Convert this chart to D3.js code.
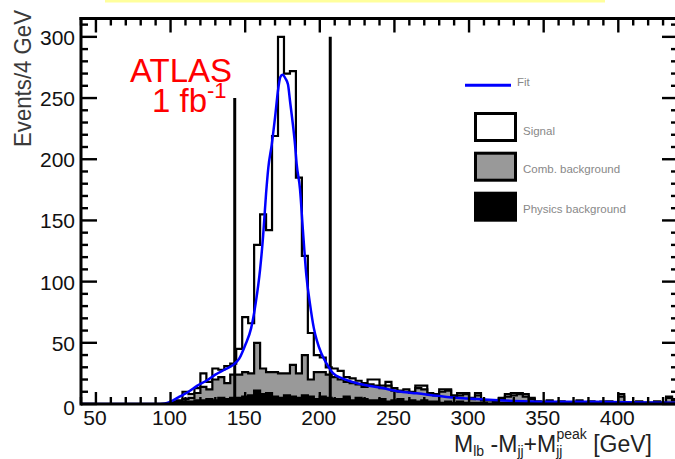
<!DOCTYPE html>
<html>
<head>
<meta charset="utf-8">
<script src="https://cdn.jsdelivr.net/npm/d3@7"></script>
<style>
  html, body { margin: 0; padding: 0; background: #fff; }
  svg { display: block; }
  text { font-family: "Liberation Sans", Arial, Helvetica, sans-serif; }
</style>
</head>
<body>
<svg id="chart" width="675" height="459"></svg>
<script>
// Histogram binning (GeV)
const binStart = 40;
const binWidth = 4;

// Events per 4 GeV bin, one entry per bin from 40 to 440 GeV
const physicsBkg = [
  0,0,0,0,0,0,0,0,0,0, 0,0,0,0,0,1,1,2,2,3,
  3,4,3,5,4,5,5,6,7,11, 8,9,6,5,7,6,5,7,6,4,
  6,5,4,4,6,3,5,4,3,3, 4,2,3,4,2,3,2,3,2,2,
  1,2,1,2,1,1,1,1,0,1, 1,1,1,1,1,1,0,0,1,0,
  0,0,0,1,0,0,0,0,0,0, 1,0,0,0,0,0,0,0,1,1
];
const combBkg = [
  0,0,0,0,0,0,0,0,0,0, 0,0,0,0,0,0,1,2,3,6,
  11,8,17,17,13,19,19,20,18,39, 21,17,20,20,18,26,20,33,14,22,
  20,19,18,16,12,14,11,10,13,12, 9,13,8,6,8,6,11,9,6,5,
  9,9,5,5,7,3,6,2,3,1, 3,5,6,7,5,3,2,1,1,1,
  2,1,0,1,1,2,1,1,2,1, 5,1,1,2,1,1,2,1,4,2
];
const signal = [
  0,0,0,0,0,0,0,0,0,0, 0,0,0,0,0,1,1,6,3,4,
  11,6,9,6,14,9,21,45,41,80, 126,116,193,275,245,240,160,81,38,14,
  12,6,7,7,4,4,3,3,4,5, 2,3,2,1,2,1,2,3,1,1,
  2,1,1,2,1,1,2,0,0,0, 1,2,2,1,2,1,0,0,1,0,
  0,0,0,1,0,0,0,1,0,0, 2,0,0,0,0,0,0,0,1,1
];

// Fitted curve, sampled as [mass (GeV), events]
const fitMass = [40, 90, 96, 100, 106, 112, 118, 124, 130, 136, 142, 146, 150, 154, 157,
  160, 162, 164, 165.5, 167.8, 170, 172.2, 173.5, 175, 177, 178.7, 180, 182, 183.4, 184.5,
  186.7, 188.8, 191, 193.4, 196, 198, 201, 204.6, 209, 215, 222, 230, 242, 252, 265, 285,
  305, 330, 350, 385, 420, 440];
const fitEvents = [0, 0, 0.5, 2, 6, 10, 15, 19, 24, 28, 32, 37, 48, 62, 82,
  110, 137, 172, 193, 212, 234, 258, 267, 269, 266, 261, 248, 228, 212, 196,
  176, 140, 105, 82, 62, 52, 41.5, 33, 25, 21, 18, 15.5, 13, 10.5, 8.7, 5.8,
  4, 2.5, 1.9, 1.8, 1.2, 1];

// Mass-window cut lines: position (GeV) and height (events)
const cutMass = [143, 207];
const cutHeight = [250, 300];

// Axis ticks
const xTickLabels = [50, 100, 150, 200, 250, 300, 350, 400];
const yTickLabels = [0, 50, 100, 150, 200, 250, 300];

// Legend
const legendLabels = ["Fit", "Signal", "Comb. background", "Physics background"];
const legendFills = ["none", "#ffffff", "#999999", "#000000"];

const svg = d3.select("#chart");

const plot = { left: 81, right: 678, top: 18.5, bottom: 404 };
const x = d3.scaleLinear().domain([40, 440]).range([plot.left, plot.right]);
const y = d3.scaleLinear().domain([0, 315]).range([plot.bottom, plot.top]);

// thin yellow strip along the top edge
svg.append("rect").attr("x", 105).attr("y", 0).attr("width", 500).attr("height", 2.5)
  .attr("fill", "#ffff9c");

svg.append("defs").append("clipPath").attr("id", "plotclip")
  .append("rect")
  .attr("x", plot.left).attr("y", plot.top)
  .attr("width", plot.right - plot.left).attr("height", plot.bottom - plot.top);

const g = svg.append("g").attr("clip-path", "url(#plotclip)");

// cumulative stacks: physics, +combinatorial, +signal
const nBins = physicsBkg.length;
const layerPhys = physicsBkg.slice();
const layerComb = physicsBkg.map((v, i) => v + combBkg[i]);
const layerTotal = layerComb.map((v, i) => v + signal[i]);

function stepPoints(vals) {
  const pts = vals.map((v, i) => [binStart + i * binWidth, v]);
  pts.push([binStart + nBins * binWidth, vals[nBins - 1]]);
  return pts;
}
const area = d3.area()
  .curve(d3.curveStepAfter)
  .x(d => x(d[0]))
  .y0(y(0))
  .y1(d => y(d[1]));

const layers = [
  { vals: layerTotal, fill: "#ffffff" },
  { vals: layerComb, fill: "#999999" },
  { vals: layerPhys, fill: "#000000" }
];
g.selectAll("path.hist").data(layers).join("path")
  .attr("class", "hist")
  .attr("d", d => area(stepPoints(d.vals)))
  .attr("fill", d => d.fill)
  .attr("stroke", "#000")
  .attr("stroke-width", 2.2)
  .attr("stroke-linejoin", "miter");

// cut lines
g.selectAll("line.cut").data(cutMass).join("line")
  .attr("class", "cut")
  .attr("x1", d => x(d)).attr("x2", d => x(d))
  .attr("y1", y(0)).attr("y2", (d, i) => y(cutHeight[i]))
  .attr("stroke", "#000").attr("stroke-width", 3);

// fit curve
const fitLine = d3.line()
  .curve(d3.curveMonotoneX)
  .x(d => x(d[0]))
  .y(d => y(d[1]));
g.append("path")
  .attr("d", fitLine(fitMass.map((m, i) => [m, fitEvents[i]])))
  .attr("fill", "none")
  .attr("stroke", "#0000ff")
  .attr("stroke-width", 2.5);

// frame
const frame = svg.append("g").attr("stroke", "#000").attr("fill", "none");
frame.append("line").attr("x1", plot.left - 1.5).attr("x2", plot.right + 2).attr("y1", plot.top).attr("y2", plot.top).attr("stroke-width", 3);
frame.append("line").attr("x1", plot.left).attr("x2", plot.left).attr("y1", plot.top - 1.5).attr("y2", plot.bottom + 1.5).attr("stroke-width", 3);
frame.append("line").attr("x1", plot.right).attr("x2", plot.right).attr("y1", plot.top).attr("y2", plot.bottom).attr("stroke-width", 3);
frame.append("line").attr("x1", plot.left).attr("x2", plot.right).attr("y1", plot.bottom).attr("y2", plot.bottom).attr("stroke-width", 3);

// ticks
const xMinor = d3.range(40, 441, 10);
const yMinor = d3.range(0, 316, 10);
const ticks = svg.append("g").attr("stroke", "#000").attr("stroke-width", 2.4);
xMinor.forEach(v => {
  const major = v % 50 === 0;
  // bottom (pointing up)
  ticks.append("line").attr("x1", x(v)).attr("x2", x(v))
    .attr("y1", plot.bottom).attr("y2", plot.bottom - (major ? 12 : 7));
  // top (pointing down)
  ticks.append("line").attr("x1", x(v)).attr("x2", x(v))
    .attr("y1", plot.top).attr("y2", plot.top + (major ? 14 : 7));
});
yMinor.forEach(v => {
  const major = v % 50 === 0;
  ticks.append("line").attr("y1", y(v)).attr("y2", y(v))
    .attr("x1", plot.left).attr("x2", plot.left + (major ? 16 : 7));
  ticks.append("line").attr("y1", y(v)).attr("y2", y(v))
    .attr("x1", plot.right).attr("x2", plot.right - (major ? 16 : 7));
});

// tick labels
svg.append("g").selectAll("text").data(xTickLabels).join("text")
  .attr("x", d => x(d) - 1)
  .attr("y", 425)
  .attr("text-anchor", "middle")
  .attr("font-size", 21)
  .attr("fill", "#111")
  .text(d => d);
svg.append("g").selectAll("text").data(yTickLabels).join("text")
  .attr("x", 75)
  .attr("y", d => y(d) + (d === 0 ? 11 : 8))
  .attr("text-anchor", "end")
  .attr("font-size", 21)
  .attr("fill", "#111")
  .text(d => d);

// axis titles
svg.append("text")
  .attr("transform", "translate(31,147) rotate(-90)")
  .attr("font-size", 24)
  .attr("textLength", 137)
  .attr("lengthAdjust", "spacingAndGlyphs")
  .attr("fill", "#3a3a3a")
  .text("Events/4 GeV");

const xt = svg.append("text")
  .attr("x", 652).attr("y", 452)
  .attr("text-anchor", "end")
  .attr("font-size", 23)
  .attr("fill", "#222");
xt.append("tspan").text("M");
xt.append("tspan").attr("font-size", 14).attr("dy", 4).text("lb");
xt.append("tspan").attr("dy", -4).text(" -M");
xt.append("tspan").attr("font-size", 14).attr("dy", 4).text("jj");
xt.append("tspan").attr("dy", -4).text("+M");
xt.append("tspan").attr("font-size", 14).attr("dy", 4).text("jj");
xt.append("tspan").attr("font-size", 14).attr("dx", -6).attr("dy", -17).text("peak");
xt.append("tspan").attr("dy", 13).text(" [GeV]");

// experiment label
svg.append("text").attr("x", 130).attr("y", 82)
  .attr("font-size", 33).attr("fill", "#ff0000").text("ATLAS");
const lumi = svg.append("text").attr("x", 152).attr("y", 112)
  .attr("font-size", 33).attr("fill", "#ff0000");
lumi.append("tspan").text("1 fb");
lumi.append("tspan").attr("font-size", 22).attr("dy", -14).text("-1");

// legend
const lg = svg.append("g");
lg.append("line").attr("x1", 465).attr("x2", 511).attr("y1", 85.3).attr("y2", 85.3)
  .attr("stroke", "#0000ff").attr("stroke-width", 3);
const boxTop = [112, 151.7, 191.7];
[1, 2, 3].forEach((k, j) => {
  lg.append("rect")
    .attr("x", 475.5).attr("y", boxTop[j] + 1.5)
    .attr("width", 40).attr("height", 27)
    .attr("fill", legendFills[k])
    .attr("stroke", "#000").attr("stroke-width", 3);
});
const legendTextY = [86, 135, 173, 213];
const legendTextX = [517, 523, 523, 523];
lg.selectAll("text").data(legendLabels).join("text")
  .attr("x", (d, i) => legendTextX[i])
  .attr("y", (d, i) => legendTextY[i])
  .attr("font-size", 11.5)
  .attr("fill", "#888")
  .text(d => d);
</script>
</body>
</html>
